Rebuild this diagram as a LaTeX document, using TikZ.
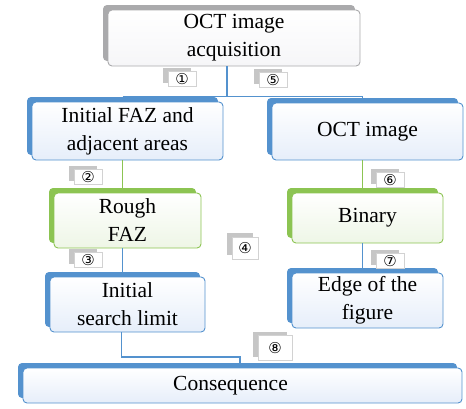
\documentclass[tikz,border=0pt]{standalone}
\usepackage{fontspec}
\setmainfont{Liberation Serif}
\newfontfamily\circfont{DejaVu Sans}
\usetikzlibrary{shadows}
\definecolor{blueedge}{RGB}{84,146,206}
\definecolor{bluefill}{RGB}{230,238,250}
\definecolor{greenedge}{RGB}{140,196,82}
\definecolor{greenfill}{RGB}{238,246,230}
\definecolor{greyedge}{RGB}{170,170,172}
\definecolor{greyfill}{RGB}{246,246,248}

\begin{document}
\begin{tikzpicture}[x=1pt,y=-1pt,
    stage/.style={draw=#1edge, line width=0.9pt, rounded corners=4pt,
      top color=white, bottom color=#1fill, align=center, inner sep=0pt,
      font=\fontsize{21.5}{28}\selectfont,
      general shadow={fill=#1edge, shadow xshift=-5pt, shadow yshift=5pt}},
    tab/.style={draw=gray!35, fill=white, inner sep=0pt,
      minimum width=28pt, minimum height=15pt,
      font=\circfont\fontsize{15}{15}\selectfont,
      general shadow={fill=gray!45, shadow xshift=-5pt, shadow yshift=4pt}},
    bline/.style={draw=blueedge, line width=1.6pt},
    gline/.style={draw=greenedge, line width=1.6pt}]
  \useasboundingbox (0,0) rectangle (466,408);

  % steps
  \node[stage=grey, minimum width=252pt, minimum height=56pt] (acq) at (234,38) {OCT image\\acquisition};
  \node[stage=blue, minimum width=191pt, minimum height=58pt] (faz) at (127.5,131) {Initial FAZ and\\adjacent areas};
  \node[stage=green, minimum width=147pt, minimum height=55pt] (rough) at (127.5,220.5) {Rough\\FAZ};
  \node[stage=blue, minimum width=155pt, minimum height=55pt] (search) at (127.5,304.5) {Initial\\search limit};
  \node[stage=blue, minimum width=191pt, minimum height=57pt] (oct) at (367.5,131.5) {OCT image};
  \node[stage=green, minimum width=151pt, minimum height=50pt] (bin) at (367.5,218) {Binary};
  \node[stage=blue, minimum width=151pt, minimum height=55pt] (edge) at (367.5,300.5) {Edge of the\\figure};
  \node[stage=blue, minimum width=439pt, minimum height=35pt] (cons) at (242.5,385.5) {Consequence\hspace*{24pt}};

  % links
  \draw[bline] ([xshift=-7pt]acq.south) -- ++(0,31);
  \draw[bline] ([shift={(-5pt,5pt)}]faz.north) -| ([shift={(-5pt,5pt)}]oct.north);
  \draw[gline] ([xshift=-5pt]faz.south) -- ([shift={(-5pt,5pt)}]rough.north);
  \draw[bline] ([xshift=-5pt]rough.south) -- ([shift={(-5pt,5pt)}]search.north);
  \draw[gline] ([xshift=-5pt]oct.south) -- ([shift={(-5pt,5pt)}]bin.north);
  \draw[bline] ([xshift=-5pt]bin.south) -- ([shift={(-5pt,5pt)}]edge.north);
  \coordinate (j8) at (240,357);
  \draw[bline] ([xshift=-6pt]search.south) |- (j8) -- ++(0,6);

  % step numbers
  \node[tab] (n1) at (182,79) {①};
  \node[tab] (n5) at (273,80) {⑤};
  \node[tab] (n2) at (88,177) {②};
  \node[tab] (n3) at (88,260) {③};
  \node[tab, minimum width=26pt, minimum height=22pt] (n4) at (245,248) {④};
  \node[tab] (n6) at (390,180) {⑥};
  \node[tab] (n7) at (390,261) {⑦};
  \node[tab, minimum width=34pt, minimum height=25pt] (n8) at (275,348) {⑧};
\end{tikzpicture}
\end{document}
